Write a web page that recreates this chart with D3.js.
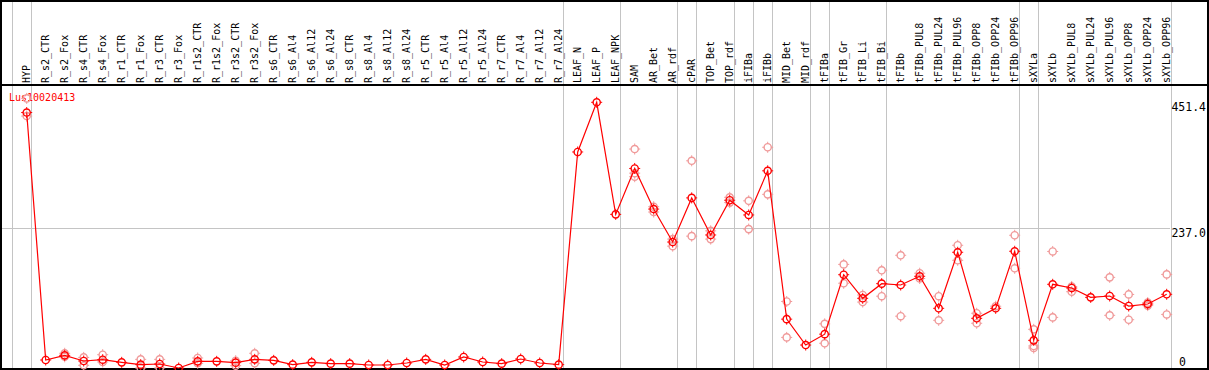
<!DOCTYPE html>
<html><head><meta charset="utf-8">
<script src="https://cdn.jsdelivr.net/npm/d3@7"></script>
<style>html,body{margin:0;padding:0;background:#fff;overflow:hidden}</style>
</head><body>
<svg id="chart" width="1209" height="370"></svg>
<script>
const categories = ["HYP","R_s2_CTR","R_s2_Fox","R_s4_CTR","R_s4_Fox","R_r1_CTR","R_r1_Fox","R_r3_CTR","R_r3_Fox","R_r1s2_CTR","R_r1s2_Fox","R_r3s2_CTR","R_r3s2_Fox","R_s6_CTR","R_s6_Al4","R_s6_Al12","R_s6_Al24","R_s8_CTR","R_s8_Al4","R_s8_Al12","R_s8_Al24","R_r5_CTR","R_r5_Al4","R_r5_Al12","R_r5_Al24","R_r7_CTR","R_r7_Al4","R_r7_Al12","R_r7_Al24","LEAF_N","LEAF_P","LEAF_NPK","SAM","AR_Bet","AR_rdf","cPAR","TOP_Bet","TOP_rdf","iFIBa","iFIBb","MID_Bet","MID_rdf","tFIBa","tFIB_Gr","tFIB_Li","tFIB_Bi","tFIBb","tFIBb_PUL8","tFIBb_PUL24","tFIBb_PUL96","tFIBb_OPP8","tFIBb_OPP24","tFIBb_OPP96","sXYLa","sXYLb","sXYLb_PUL8","sXYLb_PUL24","sXYLb_PUL96","sXYLb_OPP8","sXYLb_OPP24","sXYLb_OPP96"];
const means = [434,13.6,21.5,11.9,14.1,9.6,5.7,6.8,0,11.3,11.3,9.1,14.7,13,5.7,9.6,7.4,7.4,5.1,5.1,8.5,14.7,5.1,18.7,10.2,7.4,15.3,8.5,5.7,367,451.4,261,339,270,214,289,226,285,260,335,83,39,57.5,158.5,118.4,143.3,141,155.8,101.4,196.6,84.4,101.4,198.3,47,142.2,135.9,120,122.3,105.3,108.7,125.2];
const replicates = [[458,428],[],[25,19],[18,4.6],[22.6,10.2],[],[14.7,0],[14.7,0],[],[17,8],[],[12.4,4],[25,8],[],[],[],[],[],[],[],[],[],[],[],[],[],[],[],[],[],[],[],[372,331,325],[274,265],[219,207],[352,224],[233,219],[290,281],[284,236],[375,295],[113,52],[],[75,42],[176,144],[124,112],[166,122],[191.5,88],[161,152],[122,81],[208.5,183],[93,76],[105],[225.5,169.4],[65.7,37.4,34],[198,86],[138.5,129.6],[],[154,89.5],[125,82],[111,106],[159,91]];
const groupEnds = ["HYP","R_r7_Al24","LEAF_NPK","AR_rdf","cPAR","TOP_rdf","iFIBa","iFIBb","MID_rdf","tFIBa","tFIB_Bi","tFIBb_OPP96","sXYLa","sXYLb_OPP96"];
const yTicks = [0, 237.0, 451.4];
const geneName = "Lus10020413";

const W = 1209, H = 370;
const svg = d3.select("#chart");
const mono = "'DejaVu Sans Mono', 'Liberation Mono', monospace";

const x = d3.scalePoint().domain(categories).range([26.7, 1166.7]);
const step = x.step();
const y = d3.scaleLinear().domain([0, 451.4]).range([368, 102.3]);

// gridlines
const grid = svg.append("g").attr("stroke", "#c4c4c4").attr("stroke-width", 1);
grid.append("line").attr("x1", x(categories[0]) - step + 4.5).attr("x2", x(categories[0]) - step + 4.5).attr("y1", 0).attr("y2", 368).attr("shape-rendering","crispEdges");
groupEnds.forEach(c => {
  const gx = Math.round(x(c) + 4) + 0.5;
  grid.append("line").attr("x1", gx).attr("x2", gx).attr("y1", 0).attr("y2", 368).attr("shape-rendering","crispEdges");
});
grid.append("line").attr("x1", 0).attr("x2", 1170).attr("y1", Math.round(y(237.0)) + 0.5).attr("y2", Math.round(y(237.0)) + 0.5).attr("shape-rendering","crispEdges");

// frame
const frame = svg.append("g").attr("stroke", "#000").attr("stroke-width", 2).attr("shape-rendering","crispEdges");
frame.append("line").attr("x1", 0).attr("x2", W).attr("y1", 1).attr("y2", 1);
frame.append("line").attr("x1", 0).attr("x2", W).attr("y1", 85).attr("y2", 85);
frame.append("line").attr("x1", 0).attr("x2", W).attr("y1", 368.5).attr("y2", 368.5);
frame.append("line").attr("x1", 1).attr("x2", 1).attr("y1", 0).attr("y2", H);
frame.append("line").attr("x1", 1208).attr("x2", 1208).attr("y1", 0).attr("y2", H);

// category labels
svg.append("g").selectAll("text").data(categories).join("text")
  .attr("transform", d => `translate(${x(d) + 3},83) rotate(-90)`)
  .attr("font-family", mono).attr("font-size", "10px").attr("fill", "#000")
  .text(d => d);

// y tick labels
svg.append("g").selectAll("text").data(yTicks).join("text")
  .attr("x", d => d === 0 ? 1179 : 1206)
  .attr("text-anchor", d => d === 0 ? "start" : "end")
  .attr("y", d => Math.min(y(d) + 9, 366))
  .attr("font-family", mono).attr("font-size", "11.5px").attr("fill", "#000")
  .text(d => d === 0 ? "0" : d.toFixed(1));

// gene label
svg.append("text").attr("x", 9).attr("y", 101)
  .attr("font-family", mono).attr("font-size", "10px").attr("fill", "#ff0000")
  .text(geneName);

function marker(g, cx, cy, color) {
  const m = g.append("g").attr("transform", `translate(${cx},${cy})`).attr("stroke", color).attr("fill", "none");
  m.append("circle").attr("r", 3.6).attr("stroke-width", 1.4);
  m.append("path").attr("stroke-width", 1).attr("d", "M0,-5.5V-3.6M0,3.6V5.5M-5.5,0H-3.6M3.6,0H5.5");
}

// replicate markers
const repG = svg.append("g");
replicates.forEach((reps, i) => {
  reps.forEach(v => marker(repG, x(categories[i]), y(v), "#f09a9a"));
});

// mean line
svg.append("path").datum(means)
  .attr("fill", "none").attr("stroke", "#ff0000").attr("stroke-width", 1.2)
  .attr("d", d3.line().x((d, i) => x(categories[i])).y(d => y(d)));

// mean markers
const meanG = svg.append("g");
means.forEach((v, i) => marker(meanG, x(categories[i]), y(v), "#ff0000"));
</script>
</body></html>
